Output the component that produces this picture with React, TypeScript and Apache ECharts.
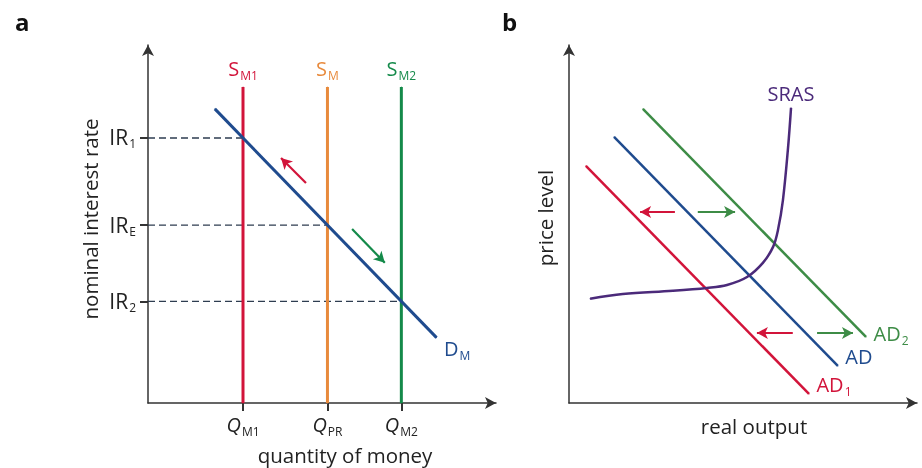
import React, { useEffect, useRef } from 'react';
import * as echarts from 'echarts';

// Panel a: money market
const qTicks = [27, 51, 72];
const qSubs = ['M1', 'PR', 'M2'];
const irTicks = [28, 49, 73];
const irSubs = ['2', 'E', '1'];
const supplyTop = 87;
const supplyNames = [['S', 'M1'], ['S', 'M'], ['S', 'M2']];
const demandLine = [[19, 81], [82, 18]];
const redArrowA = [[44.9, 60.6], [37.8, 67.5]];
const greenArrowA = [[58.0, 47.9], [67.3, 38.6]];

// Panel b: aggregate demand / supply
const ad1Line = [[4.8, 65.3], [68.2, 2.5]];
const adLine = [[12.8, 73.3], [76.4, 10.2]];
const ad2Line = [[21.0, 81.0], [84.4, 18.2]];
const srasCurve = [
  [6.0, 28.7], [15.3, 30.0], [29.5, 30.9], [39.2, 31.7], [44.9, 32.5],
  [50.6, 34.7], [55.1, 38.6], [58.0, 43.0], [59.4, 47.7], [60.8, 55.9],
  [62.2, 69.7], [63.1, 81.3],
];
const arrowsB = [
  { from: [30.1, 52.6], to: [20.2, 52.6], c: 'red' },
  { from: [36.6, 52.6], to: [47.2, 52.6], c: 'green' },
  { from: [63.6, 19.3], to: [53.4, 19.3], c: 'red' },
  { from: [70.5, 19.3], to: [80.7, 19.3], c: 'green' },
];

const FONT = 'Open Sans';
const RED = '#d2143a';
const ORANGE = '#e88a3c';
const GREEN = '#148a4a';
const BLUE = '#1f4b8e';
const PURPLE = '#4b2a7a';
const GREEN2 = '#3d8c46';
const DASH = '#2e3d50';
const AXIS = '#333';

const sub = (main: string, s: string, color = '#222', italic = false) => ({
  text: `{m|${main}}{s|${s}}`,
  rich: {
    m: { fontSize: 20, fontFamily: FONT, color, fontStyle: italic ? 'italic' : 'normal', lineHeight: 22, verticalAlign: 'top' },
    s: { fontSize: 12, fontFamily: FONT, color, lineHeight: 12, padding: [11, 0, 0, 1], verticalAlign: 'top' },
  },
});

export default function App() {
  const ref = useRef<HTMLDivElement>(null);
  useEffect(() => {
    if (!ref.current) return;
    const chart = echarts.init(ref.current, null, { renderer: 'svg' });
    const XMAX = 98.9;
    const YMAX = 98.6;
    const axisLine = {
      show: true,
      lineStyle: { color: AXIS, width: 1.5 },
      symbol: ['none', 'arrow'],
      symbolSize: [9, 11],
    };
    const supplyColors = [RED, ORANGE, GREEN];
    const series: any[] = [];
    // supply lines
    qTicks.forEach((q, i) => {
      const lbl = sub(supplyNames[i][0], supplyNames[i][1], supplyColors[i]);
      series.push({
        type: 'line', xAxisIndex: 0, yAxisIndex: 0, symbol: 'circle', symbolSize: 1, z: 3,
        lineStyle: { color: supplyColors[i], width: 3 }, itemStyle: { color: supplyColors[i] },
        data: [
          { value: [q, 0] },
          { value: [q, supplyTop], label: { show: true, position: 'top', distance: 6, formatter: lbl.text, rich: lbl.rich } },
        ],
      });
    });
    // dashed guides
    irTicks.forEach((ir, i) => {
      const xq = [qTicks[2], qTicks[1], qTicks[0]][i];
      series.push({
        type: 'line', xAxisIndex: 0, yAxisIndex: 0, symbol: 'none', z: 2,
        lineStyle: { color: DASH, width: 1.4, type: [7, 4] },
        data: [[0, ir], [xq, ir]],
      });
    });
    const dl = sub('D', 'M', BLUE);
    series.push({
      type: 'line', xAxisIndex: 0, yAxisIndex: 0, symbol: 'circle', symbolSize: 1, z: 4,
      lineStyle: { color: BLUE, width: 3 }, itemStyle: { color: BLUE },
      data: [
        { value: demandLine[0] },
        { value: demandLine[1], label: { show: true, position: 'right', offset: [2, 12], formatter: dl.text, rich: dl.rich } },
      ],
      markLine: {
        silent: true, symbol: ['none', 'arrow'], symbolSize: [9, 11], label: { show: false },
        data: [
          [{ coord: redArrowA[0], lineStyle: { color: RED, width: 2.2, type: 'solid' } }, { coord: redArrowA[1] }],
          [{ coord: greenArrowA[0], lineStyle: { color: GREEN, width: 2.2, type: 'solid' } }, { coord: greenArrowA[1] }],
        ],
      },
    });
    // panel b
    const adDefs = [
      { d: ad1Line, c: RED, l: sub('AD', '1', RED), off: [2, -8] },
      { d: adLine, c: BLUE, l: sub('AD', '', BLUE), off: [2, -8] },
      { d: ad2Line, c: GREEN2, l: sub('AD', '2', GREEN2), off: [2, -2] },
    ];
    adDefs.forEach((a) => {
      series.push({
        type: 'line', xAxisIndex: 1, yAxisIndex: 1, symbol: 'circle', symbolSize: 1, z: 3,
        lineStyle: { color: a.c, width: 2.5 }, itemStyle: { color: a.c },
        data: [
          { value: a.d[0] },
          { value: a.d[1], label: { show: true, position: 'right', offset: a.off, formatter: a.l.text, rich: a.l.rich } },
        ],
      });
    });
    series.push({
      type: 'line', xAxisIndex: 1, yAxisIndex: 1, symbol: 'circle', symbolSize: 1, z: 4, smooth: 0.35,
      lineStyle: { color: PURPLE, width: 2.5 }, itemStyle: { color: PURPLE },
      data: srasCurve.map((p, i) =>
        i === srasCurve.length - 1
          ? { value: p, label: { show: true, position: 'top', distance: 4, formatter: 'SRAS', color: PURPLE, fontSize: 20, fontFamily: FONT } }
          : { value: p }
      ),
      markLine: {
        silent: true, symbol: ['none', 'arrow'], symbolSize: [9, 11], label: { show: false },
        data: arrowsB.map((a) => [
          { coord: a.from, lineStyle: { color: a.c === 'red' ? RED : GREEN2, width: 1.8, type: 'solid' } },
          { coord: a.to },
        ]),
      },
    });

    const irRich: any = {
      m: { fontSize: 21, fontFamily: FONT, color: '#222', lineHeight: 22, verticalAlign: 'top' },
      s: { fontSize: 12, fontFamily: FONT, color: '#222', lineHeight: 12, padding: [11, 0, 0, 1], verticalAlign: 'top' },
    };
    const qRich: any = {
      m: { fontSize: 20, fontFamily: FONT, color: '#222', fontStyle: 'italic', lineHeight: 22, verticalAlign: 'top' },
      s: { fontSize: 12, fontFamily: FONT, color: '#222', lineHeight: 12, padding: [11, 0, 0, 1], verticalAlign: 'top' },
    };

    chart.setOption({
      animation: false,
      textStyle: { fontFamily: FONT },
      grid: [
        { left: 148, top: 45, width: 348, height: 358 },
        { left: 569, top: 45, width: 348, height: 358 },
      ],
      xAxis: [
        {
          type: 'value', gridIndex: 0, min: 0, max: XMAX, axisLine,
          splitLine: { show: false },
          axisTick: { show: true, customValues: qTicks, length: 8, lineStyle: { color: AXIS, width: 2 } },
          axisLabel: {
            show: true, customValues: qTicks, margin: 11,
            formatter: (v: number) => `{m|Q}{s|${qSubs[qTicks.indexOf(v)]}}`,
            rich: qRich,
          },
        },
        {
          type: 'value', gridIndex: 1, min: 0, max: XMAX, axisLine,
          splitLine: { show: false }, axisTick: { show: false }, axisLabel: { show: false },
        },
      ],
      yAxis: [
        {
          type: 'value', gridIndex: 0, min: 0, max: YMAX, axisLine,
          splitLine: { show: false },
          axisTick: { show: true, customValues: irTicks, length: 8, lineStyle: { color: AXIS, width: 2 } },
          axisLabel: {
            show: true, customValues: irTicks, margin: 12,
            formatter: (v: number) => `{m|IR}{s|${irSubs[irTicks.indexOf(v)]}}`,
            rich: irRich,
          },
        },
        {
          type: 'value', gridIndex: 1, min: 0, max: YMAX, axisLine,
          splitLine: { show: false }, axisTick: { show: false }, axisLabel: { show: false },
        },
      ],
      title: [
        { text: 'a', left: 10, top: 4, textStyle: { fontSize: 24, fontWeight: 'bold', fontFamily: FONT, color: '#111' } },
        { text: 'b', left: 497, top: 4, textStyle: { fontSize: 24, fontWeight: 'bold', fontFamily: FONT, color: '#111' } },
      ],
      graphic: [
        { type: 'text', x: 345, y: 455, style: { text: 'quantity of money', fontSize: 20.5, fontFamily: FONT, fill: '#222', align: 'center', verticalAlign: 'middle' } },
        { type: 'text', x: 90, y: 219, rotation: Math.PI / 2, style: { text: 'nominal interest rate', fontSize: 20.5, fontFamily: FONT, fill: '#222', align: 'center', verticalAlign: 'middle' } },
        { type: 'text', x: 754, y: 426, style: { text: 'real output', fontSize: 20.5, fontFamily: FONT, fill: '#222', align: 'center', verticalAlign: 'middle' } },
        { type: 'text', x: 545, y: 218, rotation: Math.PI / 2, style: { text: 'price level', fontSize: 20.5, fontFamily: FONT, fill: '#222', align: 'center', verticalAlign: 'middle' } },
      ],
      series,
    });
    return () => chart.dispose();
  }, []);
  return <div ref={ref} style={{ position: 'fixed', left: 0, top: 0, width: 922, height: 468 }} />;
}
